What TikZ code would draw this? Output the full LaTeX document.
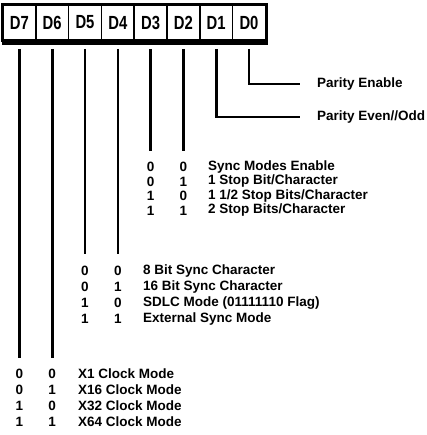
\documentclass[tikz,border=0pt]{standalone}
\usepackage{fontspec}
\setmainfont{Liberation Sans}
\newfontfamily\regfont[FakeStretch=0.78]{Liberation Sans}
\usetikzlibrary{positioning,calc,fit}
\tikzset{
  % register
  cell/.style={rectangle,draw=black,line width=1.6pt,inner sep=0pt,
               minimum width=32.8pt,minimum height=35pt,
               font=\regfont\fontsize{19}{19}\selectfont\bfseries},
  frame/.style={draw=black,line width=2.6pt,inner sep=0pt},
  % bit lines
  bit/.style={draw=black,line width=2.6pt,shorten <=8pt},
  val/.style={inner sep=2pt,font=\fontsize{13.5}{14}\selectfont\bfseries},
  desc/.style={anchor=west,inner sep=0pt,font=\fontsize{13.5}{14}\selectfont\bfseries},
}
\begin{document}
\begin{tikzpicture}[x=1pt,y=-1pt]
  \useasboundingbox (0,0) rectangle (426,435);
  \node[cell] (d7) at (19.4,22.5) {D7};
  \node[cell] (d6) at (52.2,22.5) {D6};
  \node[cell] (d5) at (85.0,22.5) {D5};
  \node[cell] (d4) at (117.8,22.5) {D4};
  \node[cell] (d3) at (150.6,22.5) {D3};
  \node[cell] (d2) at (183.4,22.5) {D2};
  \node[cell] (d1) at (216.2,22.5) {D1};
  \node[cell] (d0) at (249.0,22.5) {D0};
  \node[frame,fit=(d7)(d0)] (reg) {};
  \draw[line width=3.5pt] ([xshift=1pt,yshift=-1.2pt]reg.south west) -- ([yshift=-1.2pt]reg.south east);

  % D0, D1
  \node[desc] (pe) at (317,84) {Parity Enable};
  \node[desc] (po) at (317,117) {Parity Even//Odd};
  \draw[bit,shorten >=17pt] (d0.south) |- (pe.west);
  \draw[bit,shorten >=17pt] (d1.south) |- (po.west);

  % D3, D2
  \node[val] (a30) at (150.6,167) {0};    \node[val] (a20) at (183.4,167) {0};
  \node[val] (a31) at (150.6,181.5) {0};  \node[val] (a21) at (183.4,181.5) {1};
  \node[val] (a32) at (150.6,196) {1};    \node[val] (a22) at (183.4,196) {0};
  \node[val] (a33) at (150.6,210.5) {1};  \node[val] (a23) at (183.4,210.5) {1};
  \node[desc] at (208,167) {Sync Modes Enable};
  \node[desc] at (208,181.5) {1 Stop Bit/Character};
  \node[desc] at (208,196) {1 1/2 Stop Bits/Character};
  \node[desc] at (208,210.5) {2 Stop Bits/Character};
  \draw[bit,shorten >=9pt] (d3.south) -- (a30.north);
  \draw[bit,shorten >=9pt] (d2.south) -- (a20.north);

  % D5, D4
  \node[val] (b50) at (85.0,271) {0};  \node[val] (b40) at (117.8,271) {0};
  \node[val] (b51) at (85.0,287) {0};  \node[val] (b41) at (117.8,287) {1};
  \node[val] (b52) at (85.0,303) {1};  \node[val] (b42) at (117.8,303) {0};
  \node[val] (b53) at (85.0,319) {1};  \node[val] (b43) at (117.8,319) {1};
  \node[desc] at (143,271) {8 Bit Sync Character};
  \node[desc] at (143,287) {16 Bit Sync Character};
  \node[desc] at (143,303) {SDLC Mode (01111110 Flag)};
  \node[desc] at (143,319) {External Sync Mode};
  \draw[bit,shorten >=10pt] (d5.south) -- (b50.north);
  \draw[bit,shorten >=10pt] (d4.south) -- (b40.north);

  % D7, D6
  \node[val] (c70) at (19.4,374) {0};  \node[val] (c60) at (52.2,374) {0};
  \node[val] (c71) at (19.4,390) {0};  \node[val] (c61) at (52.2,390) {1};
  \node[val] (c72) at (19.4,406) {1};  \node[val] (c62) at (52.2,406) {0};
  \node[val] (c73) at (19.4,422) {1};  \node[val] (c63) at (52.2,422) {1};
  \node[desc] at (78,374) {X1 Clock Mode};
  \node[desc] at (78,390) {X16 Clock Mode};
  \node[desc] at (78,406) {X32 Clock Mode};
  \node[desc] at (78,422) {X64 Clock Mode};
  \draw[bit,shorten >=9pt] (d7.south) -- (c70.north);
  \draw[bit,shorten >=9pt] (d6.south) -- (c60.north);
\end{tikzpicture}
\end{document}
